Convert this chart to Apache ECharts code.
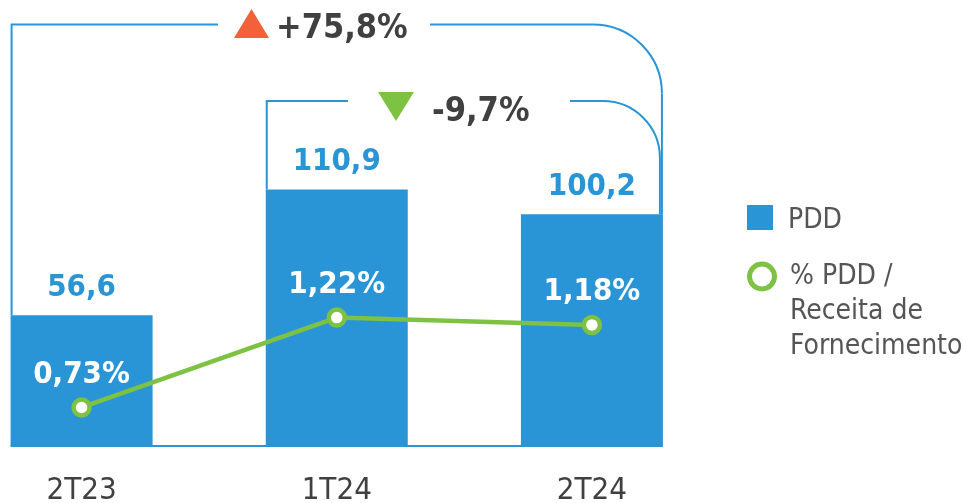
<!DOCTYPE html>
<html>
<head>
<meta charset="utf-8">
<script src="https://cdn.jsdelivr.net/npm/echarts@6/dist/echarts.min.js"></script>
<style>
  html, body { margin: 0; padding: 0; background: #fff; }
  #main { width: 963px; height: 503px; }
</style>
</head>
<body>
<div id="main"></div>
<script>
// dados
var periods = ['2T23', '1T24', '2T24'];
var pdd = [56.6, 110.9, 100.2];
var pddPct = [0.73, 1.22, 1.18];
var deltas = ['+75,8%', '-9,7%'];

var BLUE = '#2994d6';
var GREEN = '#7dc242';
var FONT = 'DejaVu Sans Condensed, DejaVu Sans, sans-serif';
var barW = 142;

var chart = echarts.init(document.getElementById('main'));
chart.setOption({
  animation: false,
  textStyle: { fontFamily: FONT },
  grid: { left: -46, right: 243.5, top: 46, bottom: 57, outerBoundsMode: 'none', containLabel: false },
  legend: [
    {
      data: ['PDD'],
      orient: 'vertical', left: 747, top: 203, padding: 0,
      itemWidth: 26, itemHeight: 25, icon: 'rect',
      // linha fina antes do texto para baixá-lo alguns pixels
      formatter: function (name) { return '{s| }\n{t|' + name + '}'; },
      textStyle: {
        padding: [0, 0, 0, 10],
        rich: {
          s: { fontSize: 1, lineHeight: 7 },
          t: { fontSize: 28, color: '#555', fontFamily: FONT }
        }
      }
    },
    {
      data: [{
        name: '% PDD /\nReceita de\nFornecimento', icon: 'circle',
        itemStyle: { color: '#fff', borderColor: GREEN, borderWidth: 5 }
      }],
      orient: 'vertical', left: 747, top: 187, padding: 0,
      itemWidth: 26, itemHeight: 25,
      // duas linhas vazias antes do texto para alinhar o ícone à primeira linha
      formatter: function (name) { return '\n\n' + name; },
      textStyle: { fontSize: 28, lineHeight: 35, color: '#555', fontFamily: FONT, padding: [4, 0, 0, 10] }
    }
  ],
  xAxis: {
    type: 'category',
    data: periods,
    axisLine: { show: false },
    axisTick: { show: false },
    axisLabel: { fontSize: 31, color: '#404040', margin: 29, fontFamily: FONT }
  },
  yAxis: [
    { type: 'value', min: 0, max: 173, show: false },
    { type: 'value', min: 0.52, max: 2.70, show: false }
  ],
  series: [
    {
      name: 'PDD',
      type: 'bar',
      data: pdd,
      barWidth: barW,
      itemStyle: { color: BLUE },
      label: {
        show: true, position: 'top', distance: 12,
        color: '#2a95d5', fontSize: 31, fontWeight: 'bold', fontFamily: FONT,
        formatter: function (p) { return p.value.toFixed(1).replace('.', ','); }
      }
    },
    {
      name: '% PDD /\nReceita de\nFornecimento',
      type: 'line',
      yAxisIndex: 1,
      data: pddPct,
      symbol: 'circle', symbolSize: 16,
      lineStyle: { color: GREEN, width: 4.5 },
      itemStyle: { color: '#fff', borderColor: GREEN, borderWidth: 4.5 },
      label: {
        show: true, position: 'top', distance: 7,
        color: '#fff', fontSize: 31, fontWeight: 'bold', fontFamily: FONT,
        formatter: function (p) { return p.value.toFixed(2).replace('.', ',') + '%'; }
      },
      z: 5
    }
  ]
});

// colchetes de variação, a partir das posições das barras
function barBox(i) {
  var p = chart.convertToPixel({ seriesIndex: 0 }, [i, pdd[i]]);
  return { left: p[0] - barW / 2, right: p[0] + barW / 2, top: p[1] };
}
var b0 = barBox(0), b1 = barBox(1), b2 = barBox(2);
var base = chart.convertToPixel({ seriesIndex: 0 }, [0, 0])[1];
var ls = { stroke: BLUE, lineWidth: 2, fill: null };

function bracket(xL, yL, y, gapL, gapR, xR, yR, r) {
  return [
    { type: 'polyline', shape: { points: [[xL, yL], [xL, y], [gapL, y]] }, style: ls },
    { type: 'line', shape: { x1: gapR, y1: y, x2: xR - r, y2: y }, style: ls },
    { type: 'arc', shape: { cx: xR - r, cy: y + r, r: r, startAngle: -Math.PI / 2, endAngle: 0, clockwise: true }, style: ls },
    { type: 'line', shape: { x1: xR, y1: y + r, x2: xR, y2: yR }, style: ls }
  ];
}

var els = [];
els = els.concat(bracket(b0.left + 1, b0.top, 24.5, 218, 430, b2.right - 1, b2.top, 69));
els = els.concat(bracket(b1.left + 1, b1.top, 101, 348, 570, b2.right - 3, b2.top, 57));
els.push(
  { type: 'line', shape: { x1: b0.left, y1: base, x2: b2.right, y2: base }, style: { stroke: BLUE, lineWidth: 2 } },
  { type: 'polygon', shape: { points: [[234, 38], [251.5, 9], [269, 38]] }, style: { fill: '#f26139' } },
  { type: 'text', x: 276, y: 29, style: { text: deltas[0], font: 'bold 34px ' + FONT, fill: '#404040', verticalAlign: 'middle' } },
  { type: 'polygon', shape: { points: [[378, 92], [414, 92], [396, 121]] }, style: { fill: GREEN } },
  { type: 'text', x: 432, y: 112, style: { text: deltas[1], font: 'bold 34px ' + FONT, fill: '#404040', verticalAlign: 'middle' } }
);
chart.setOption({ graphic: els });
</script>
</body>
</html>
